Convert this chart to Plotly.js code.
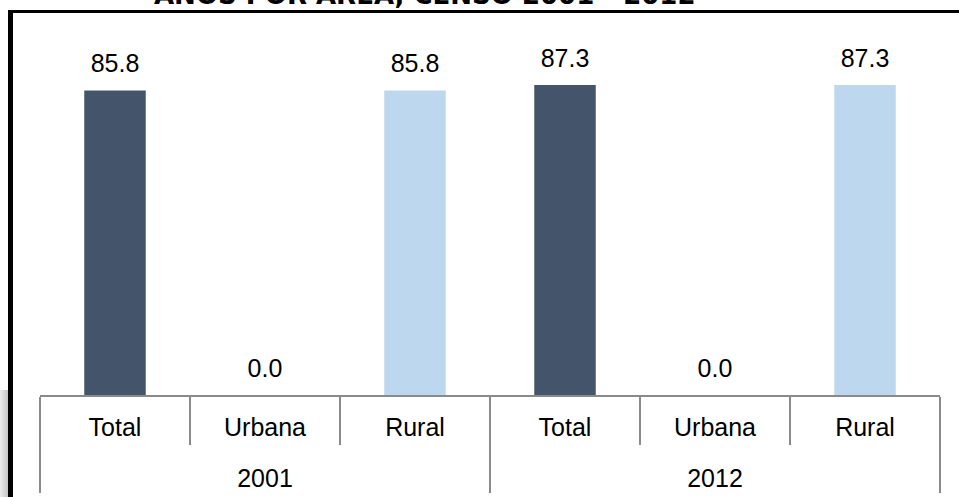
<!DOCTYPE html>
<html>
<head>
<meta charset="utf-8">
<script src="https://cdn.plot.ly/plotly-3.0.1.min.js"></script>
<style>
  html, body { margin: 0; padding: 0; background: #fff; }
  #wrap { position: relative; width: 959px; height: 497px; overflow: hidden; }
  #chart { position: absolute; left: 0; top: 0; width: 959px; height: 497px; }
  #frame { position: absolute; left: 8px; top: 10px; width: 1000px; height: 600px;
           border-left: 5px solid #000; border-top: 3px solid #000; pointer-events: none; }
  #shadow { position: absolute; left: 0; top: 390px; width: 8px; height: 107px;
            background: linear-gradient(to right, #ececec, #c4c4c4); pointer-events: none; }
</style>
</head>
<body>
<div id="wrap">
  <div id="chart"></div>
  <div id="shadow"></div>
  <div id="frame"></div>
</div>
<script>
const titleText = "AÑOS POR ÁREA, CENSO 2001 - 2012";
const years = ["2001", "2001", "2001", "2012", "2012", "2012"];
const areas = ["Total", "Urbana", "Rural", "Total", "Urbana", "Rural"];
const values = [85.8, 0.0, 85.8, 87.3, 0.0, 87.3];
const barColors = ["#44546A", "#44546A", "#BDD7EE", "#44546A", "#44546A", "#BDD7EE"];
const valueLabels = values.map(v => v.toFixed(1));

const FONT = "Liberation Sans, Arial, sans-serif";
const GRAY = "#8a8a8a";

// area labels get an empty second line so that the year row sits lower, as in the reference table
const areaLabels = areas.map(a => a + "<br><span style=\"font-size:12px\">\u00a0</span>");

const data = [
  {
    type: "bar",
    x: [years, areaLabels],
    y: values,
    marker: { color: barColors },
    hoverinfo: "none",
    showlegend: false
  },
  {
    type: "scatter",
    mode: "markers+text",
    x: [years, areaLabels],
    y: values,
    text: valueLabels,
    textposition: "top center",
    textfont: { family: FONT, size: 25, color: "#000" },
    marker: { size: 18, opacity: 0 },
    cliponaxis: false,
    hoverinfo: "none",
    showlegend: false
  }
];

const layout = {
  width: 959,
  height: 497,
  margin: { l: 40, r: 19, t: 40, b: 102 },
  paper_bgcolor: "#fff",
  plot_bgcolor: "#fff",
  bargap: 0.59,
  font: { family: FONT, color: "#000" },
  xaxis: {
    type: "multicategory",
    showline: true,
    linecolor: GRAY,
    linewidth: 1.5,
    ticks: "outside",
    ticklen: 48,
    tickcolor: GRAY,
    tickwidth: 1.5,
    showdividers: true,
    dividercolor: GRAY,
    dividerwidth: 1.5,
    ticklabelstandoff: 9,
    tickfont: { family: FONT, size: 25, color: "#000" },
    showgrid: false,
    zeroline: false,
    fixedrange: true
  },
  yaxis: {
    range: [0, 100],
    visible: false,
    showgrid: false,
    zeroline: false,
    fixedrange: true
  },
  annotations: [
    {
      text: "<b>" + titleText + "</b>",
      xref: "paper",
      yref: "paper",
      x: (425 - 40) / 900,
      y: 1,
      xanchor: "center",
      yanchor: "bottom",
      yshift: 28,
      showarrow: false,
      font: { family: "DejaVu Sans", size: 26, color: "#000" }
    }
  ]
};

Plotly.newPlot("chart", data, layout, { displayModeBar: false, staticPlot: true });
</script>
</body>
</html>
